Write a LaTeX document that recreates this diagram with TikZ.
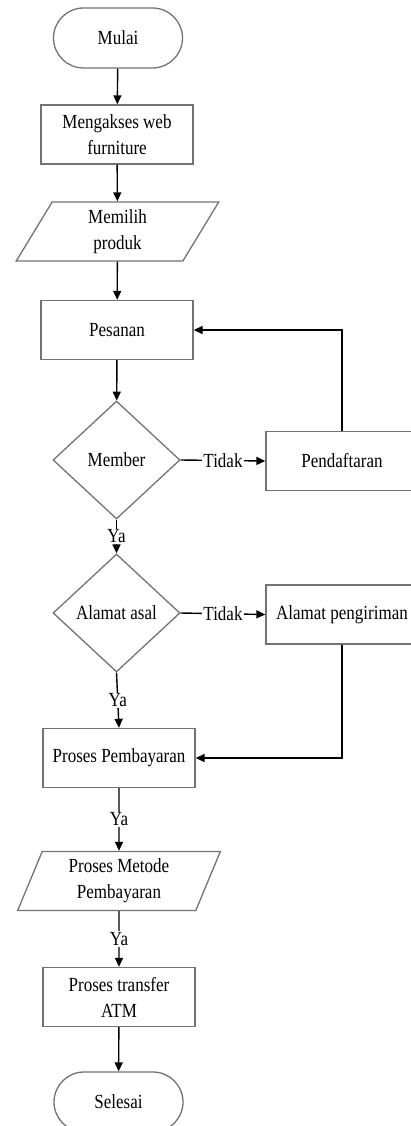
\documentclass[tikz,border=0pt]{standalone}
\usepackage{fontspec}
\setmainfont[FakeStretch=0.85]{Liberation Serif}
\usetikzlibrary{shapes.geometric,shapes.misc,arrows.meta}
\definecolor{shapegray}{RGB}{115,115,115}
\tikzset{
  base/.style={draw=shapegray, line width=1.3pt, fill=white, inner sep=0pt,
    align=center, font=\fontsize{20}{26}\selectfont},
  term/.style={base, rounded rectangle, minimum width=129pt, minimum height=60pt},
  proc/.style={base, rectangle, minimum width=152pt, minimum height=59pt},
  io/.style={base, trapezium, trapezium left angle=70, trapezium right angle=110,
    trapezium stretches=true, minimum width=203pt, minimum height=59pt},
  decide/.style={base, diamond, aspect=1.08, minimum width=127pt, minimum height=118pt},
  conn/.style={draw=black, line width=1.4pt, -{Triangle[length=9pt,width=8pt]}},
  lbl/.style={fill=white, inner sep=1pt, font=\fontsize{20}{22}\selectfont}
}
\begin{document}
\begin{tikzpicture}[x=1pt,y=1pt]
\useasboundingbox (0,0) rectangle (411,-1126);
\clip (0,0) rectangle (411,-1126);
\node[term] (mulai) at (118,-38) {Mulai};
\node[proc] (akses) at (117,-134.5) {Mengakses web\\furniture};
\node[io] (pilih) at (117.5,-231.5) {Memilih\\produk};
\node[proc] (pesan) at (117,-330) {Pesanan};
\node[decide] (member) at (116.5,-460) {Member};
\node[proc] (daftar) at (342,-461) {Pendaftaran};
\node[decide] (asal) at (116.5,-613) {Alamat asal};
\node[proc] (kirim) at (342,-614.5) {Alamat pengiriman};
\node[proc] (bayar) at (119,-758) {Proses Pembayaran};
\node[io] (metode) at (119,-881) {Proses Metode\\Pembayaran};
\node[proc] (atm) at (119,-997) {Proses transfer\\ATM};
\node[term] (selesai) at (118.5,-1102) {Selesai};

\draw[conn] (mulai) -- (akses);
\draw[conn] (akses) -- (pilih);
\draw[conn] (pilih) -- (pesan);
\draw[conn] (pesan) -- (member);
\draw[conn] (member.east) -- node[lbl] {Tidak} (daftar.west);
\draw[conn] (daftar.north) |- (pesan.east);
\draw[conn] (member.south) -- node[lbl] {Ya} (asal.north);
\draw[conn] (asal.east) -- node[lbl] {Tidak} (kirim.west);
\draw[conn] (asal.south) -- node[lbl] {Ya} (bayar.north);
\draw[conn] (kirim.south) |- (bayar.east);
\draw[conn] (bayar.south) -- node[lbl] {Ya} (metode.north);
\draw[conn] (metode.south) -- node[lbl] {Ya} (atm.north);
\draw[conn] (atm) -- (selesai);
\end{tikzpicture}
\end{document}
